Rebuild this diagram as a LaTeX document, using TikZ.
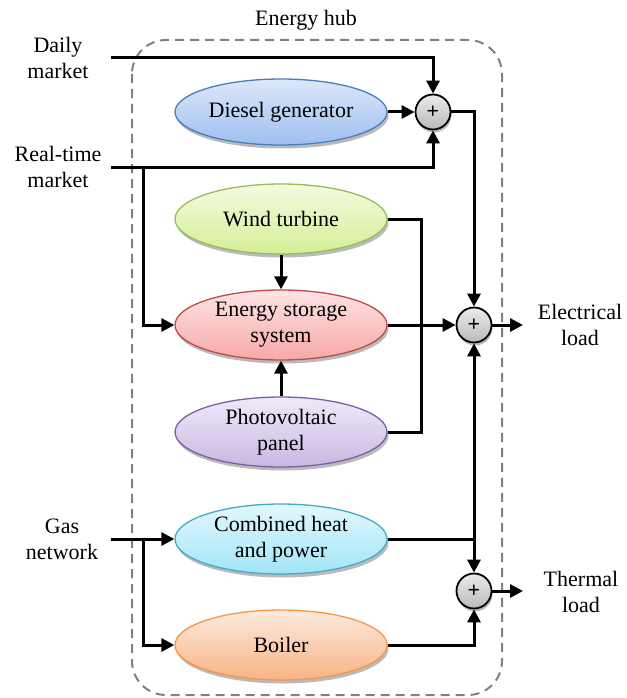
\documentclass[tikz,border=0pt]{standalone}
\usepackage{fontspec}
\setmainfont{Liberation Serif}
\usetikzlibrary{shapes.geometric,shadows,arrows.meta}

\definecolor{dgLine}{HTML}{4A7EBB}\definecolor{dgTop}{HTML}{DDE8F8}\definecolor{dgBot}{HTML}{9DBFF0}
\definecolor{wtLine}{HTML}{9BBB59}\definecolor{wtTop}{HTML}{F3FBE0}\definecolor{wtBot}{HTML}{D2EF96}
\definecolor{esLine}{HTML}{BE4B48}\definecolor{esTop}{HTML}{FFE4E4}\definecolor{esBot}{HTML}{F6A8A7}
\definecolor{pvLine}{HTML}{7D5FA0}\definecolor{pvTop}{HTML}{F0EAF8}\definecolor{pvBot}{HTML}{C8B7E2}
\definecolor{chLine}{HTML}{46AAC5}\definecolor{chTop}{HTML}{E3F7FD}\definecolor{chBot}{HTML}{A2E5F8}
\definecolor{boLine}{HTML}{F79646}\definecolor{boTop}{HTML}{FDEBDF}\definecolor{boBot}{HTML}{F8B385}
\definecolor{hubGray}{HTML}{808080}

\tikzset{
  unit/.style={ellipse, line width=1.3pt, minimum width=212pt, minimum height=70pt,
    inner sep=0pt, align=center,
    drop shadow={shadow xshift=1.5pt, shadow yshift=-3.5pt, fill=black!45, opacity=0.6}},
  unitcol/.style args={#1/#2/#3}{unit, draw=#1, top color=#2, bottom color=#3},
  adder/.style={circle, draw=black, line width=1.8pt, minimum size=35pt, inner sep=0pt,
    top color=white!92!black, bottom color=black!27,
    drop shadow={shadow xshift=1pt, shadow yshift=-3pt, fill=black!45, opacity=0.6},
    font=\fontsize{22}{22}\selectfont\bfseries},
  label/.style={align=center},
  wire/.style={line width=3pt, -{Triangle[length=13pt,width=13pt]}},
  plainwire/.style={line width=3pt},
  hub/.style={draw=hubGray, line width=2pt, dash pattern=on 9pt off 6pt, rounded corners=34pt}
}

\begin{document}
\begin{tikzpicture}[x=1pt, y=-1pt, font=\fontsize{22}{26}\selectfont]
\useasboundingbox (0,0) rectangle (626,698);

% energy hub boundary
\draw[hub] (132,40) rectangle (502,695);
\node[label] (hubname) at (306,20) {Energy hub};

% external labels
\node[label] (daily) at (58,58) {Daily\\market};
\node[label] (rt) at (58,167) {Real-time\\market};
\node[label] (gas) at (62,539) {Gas\\network};
\node[label] (elec) at (580,325) {Electrical\\load};
\node[label] (therm) at (581,592) {Thermal\\load};

% conversion units
\node[unitcol=dgLine/dgTop/dgBot, minimum height=66pt] (diesel) at (281,112) {Diesel generator};
\node[unitcol=wtLine/wtTop/wtBot] (wind) at (281,219) {Wind turbine};
\node[unitcol=esLine/esTop/esBot] (ess) at (281,325) {Energy storage\\system};
\node[unitcol=pvLine/pvTop/pvBot] (pv) at (281,432) {Photovoltaic\\panel};
\node[unitcol=chLine/chTop/chBot] (chp) at (281,539) {Combined heat\\and power};
\node[unitcol=boLine/boTop/boBot] (boiler) at (281,645) {Boiler};

% summing junctions
\node[adder] (s1) at (433,112) {+};
\node[adder] (s2) at (474,325) {+};
\node[adder] (s3) at (474,591) {+};

% wire end points
\coordinate (dailyIn) at (111,58);
\coordinate (rtIn) at (111,167);
\coordinate (rtTap) at (143,167);
\coordinate (gasIn) at (111,539);
\coordinate (gasTap) at (143,539);
\coordinate (renBus) at (421,325);
\coordinate (elecOut) at (523,325);
\coordinate (thermOut) at (523,591);

% market supplies
\draw[wire] (dailyIn) -| (s1.north);
\draw[wire] (diesel.east) -- (s1.west);
\draw[wire] (rtIn) -| (s1.south);
\draw[wire] (rtTap) |- (ess.west);
\draw[wire] (s1.east) -| (s2.north);

% renewables and storage
\draw[wire] (wind.south) -- (ess.north);
\draw[wire] (pv.north) -- (ess.south);
\draw[plainwire] (wind.east) -| (renBus) |- (pv.east);
\draw[wire] (ess.east) -- (s2.west);

% gas-fired units
\draw[wire] (gasIn) -- (chp.west);
\draw[wire] (gasTap) |- (boiler.west);
\draw[wire] (chp.east) -| (s2.south);
\draw[wire] (chp.east) -| (s3.north);
\draw[wire] (boiler.east) -| (s3.south);

% loads
\draw[wire] (s2.east) -- (elecOut);
\draw[wire] (s3.east) -- (thermOut);
\end{tikzpicture}
\end{document}
